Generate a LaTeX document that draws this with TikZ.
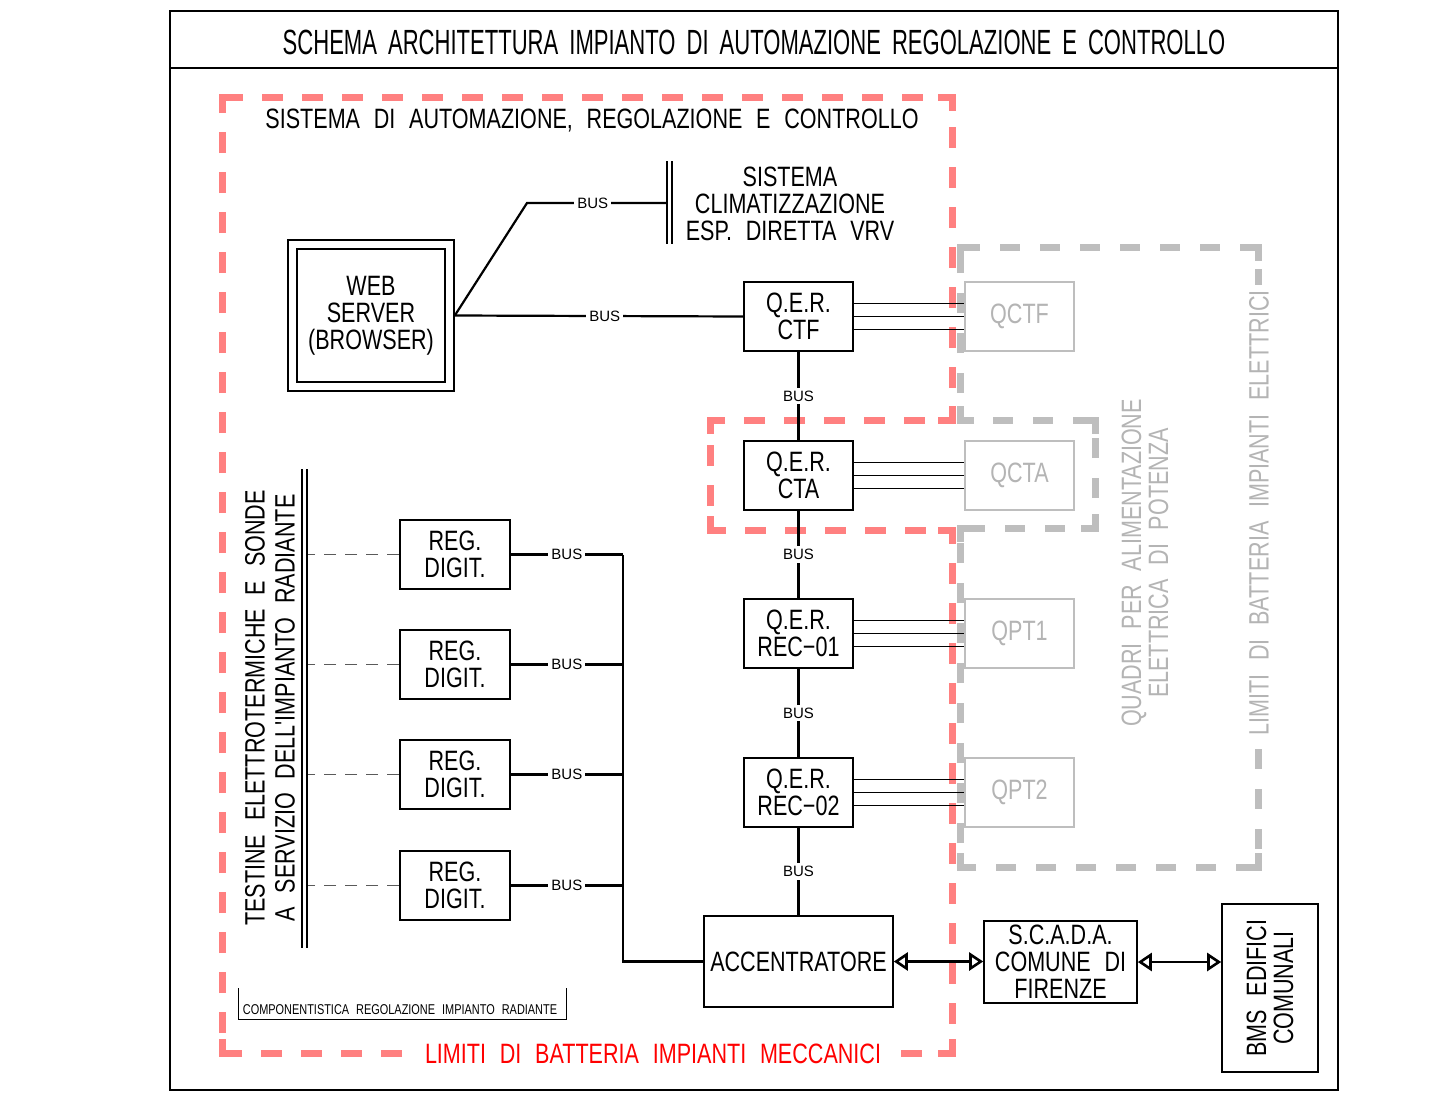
\documentclass[tikz,border=0pt]{standalone}
\usepackage{fontspec}
\setmainfont{Liberation Sans}
\newfontfamily\myCad[FakeStretch=0.77,WordSpace=2.3]{Liberation Sans}
\newfontfamily\myTitleFont[FakeStretch=0.63,WordSpace=1.8]{Liberation Sans}
\usetikzlibrary{arrows.meta}
\definecolor{redb}{RGB}{255,128,128}
\definecolor{grayb}{RGB}{190,190,190}
\definecolor{grayt}{RGB}{180,180,180}
\definecolor{redt}{RGB}{255,0,0}
\definecolor{dashc}{RGB}{90,90,90}
\newcommand\fcadA{\myCad\fontsize{28}{27}\selectfont}
\newcommand\fcadR{\myCad\fontsize{28}{30}\selectfont}
\newcommand\fcadBus{\rmfamily\fontsize{15}{15}\selectfont}
\newcommand\fcadSmall{\myCad\fontsize{14.2}{14.2}\selectfont}
\newcommand\fcadTitle{\myTitleFont\fontsize{35}{35}\selectfont}
\newcommand\cornerL[5]{\draw[#1,solid] ({#2+#4},#3) -- (#2,#3) -- (#2,{#3+#5});}
\begin{document}
\begin{tikzpicture}[x=1pt,y=-1pt,
  box/.style={draw, line width=1.6pt, inner sep=0pt, align=center, font=\fcadA},
  gbox/.style={box, draw=grayb, text=grayt},
  qbox/.style={box, minimum width=109pt, minimum height=69pt},
  rbox/.style={box, minimum width=110pt, minimum height=69pt},
  bus/.style={line width=2.2pt},
  buslbl/.style={fill=white, inner sep=3pt, font=\fcadBus},
  triple/.style={line width=1.1pt},
  regdash/.style={line width=1.2pt, draw=dashc, dash pattern=on 12pt off 9pt},
  redline/.style={draw=redb, line width=7pt, dash pattern=on 21pt off 19pt},
  grayline/.style={draw=grayb, line width=7pt, dash pattern=on 20pt off 20pt},
  dblarrow/.style={line width=2.6pt, {Triangle[open,length=14pt,width=18pt]}-{Triangle[open,length=14pt,width=18pt]}}
]
\useasboundingbox (0,0) rectangle (1432,1103);
% frame and title
\draw[line width=2.4pt] (170,11) rectangle (1338,1090);
\draw[line width=2.4pt] (170,68) -- (1338,68);
\node[font=\fcadTitle] (title) at (754,42) {SCHEMA ARCHITETTURA IMPIANTO DI AUTOMAZIONE REGOLAZIONE E CONTROLLO};

% red boundary
\draw[redline] (222,97) -- (952,97) -- (952,420) -- (710,420) -- (710,530) -- (952,530) -- (952,1053) -- (222,1053) -- cycle;
\cornerL{redline}{222}{97}{14}{14}
\cornerL{redline}{952}{97}{-14}{14}
\cornerL{redline}{952}{420}{-14}{-14}
\cornerL{redline}{710}{420}{14}{14}
\cornerL{redline}{710}{530}{14}{-14}
\cornerL{redline}{952}{530}{-14}{14}
\cornerL{redline}{952}{1053}{-14}{-14}
\cornerL{redline}{222}{1053}{14}{-14}
% gray boundary
\draw[grayline] (960,247) -- (1258,247) -- (1258,867) -- (960,867) -- (960,528) -- (1095,528) -- (1095,420) -- (960,420) -- cycle;
\cornerL{grayline}{960}{247}{14}{14}
\cornerL{grayline}{1258}{247}{-14}{14}
\cornerL{grayline}{1258}{867}{-14}{-14}
\cornerL{grayline}{960}{867}{14}{-14}
\cornerL{grayline}{960}{528}{14}{14}
\cornerL{grayline}{1095}{528}{-14}{-14}
\cornerL{grayline}{1095}{420}{-14}{14}
\cornerL{grayline}{960}{420}{14}{-14}

\node[fill=white, text=redt, font=\fcadA, inner xsep=4pt, inner ysep=3pt] (redlbl) at (653,1054) {LIMITI DI BATTERIA IMPIANTI MECCANICI};
\node[fill=white, text=grayt, font=\fcadA, rotate=90, inner xsep=5pt, inner ysep=3pt] (graylbl) at (1259,513) {LIMITI DI BATTERIA IMPIANTI ELETTRICI};
\node[text=grayt, font=\fcadA, rotate=90, align=center] (quadri) at (1145,563) {QUADRI PER ALIMENTAZIONE\\ELETTRICA DI POTENZA};
\node[font=\fcadA] (sistema) at (592,121) {SISTEMA DI AUTOMAZIONE, REGOLAZIONE E CONTROLLO};

% web server
\node[draw, line width=1.6pt, minimum width=166pt, minimum height=151pt] (webo) at (371,315.5) {};
\node[box, minimum width=148pt, minimum height=133pt] (web) at (371,315.5) {WEB\\SERVER\\(BROWSER)};

% VRV
\coordinate (vrvA) at (667,161); \coordinate (vrvB) at (667,244);
\coordinate (vrvC) at (672,161); \coordinate (vrvD) at (672,244);
\draw[line width=1.2pt] (vrvA) -- (vrvB);
\draw[line width=1.2pt] (vrvC) -- (vrvD);
\node[font=\fcadA, align=center] (vrv) at (790,204) {SISTEMA\\CLIMATIZZAZIONE\\ESP. DIRETTA VRV};
\coordinate (vrvIn) at (667,203);
\coordinate (kink) at (527,203);

% Q.E.R. boxes
\node[qbox] (qctf) at (798.5,316.5) {Q.E.R.\\CTF};
\node[qbox] (qcta) at (798.5,475.5) {Q.E.R.\\CTA};
\node[qbox] (qr1) at (798.5,633.5) {Q.E.R.\\REC−01};
\node[qbox] (qr2) at (798.5,792.5) {Q.E.R.\\REC−02};
\node[box, minimum width=189pt, minimum height=91pt] (acc) at (798.5,961.5) {ACCENTRATORE};

% QC boxes
\node[gbox, minimum width=109pt, minimum height=69pt] (qc1) at (1019.5,316.5) {QCTF};
\node[gbox, minimum width=109pt, minimum height=69pt] (qc2) at (1019.5,475.5) {QCTA};
\node[gbox, minimum width=109pt, minimum height=69pt] (qc3) at (1019.5,633.5) {QPT1};
\node[gbox, minimum width=109pt, minimum height=69pt] (qc4) at (1019.5,792.5) {QPT2};

% bus web
\draw[bus] (webo.east) -- (kink) -- node[buslbl, pos=0.47] {BUS} (vrvIn);
\draw[bus] (webo.east) -- node[buslbl, pos=0.52] {BUS} (qctf.west);

% vertical bus
\draw[bus] (qctf.south) -- node[buslbl] {BUS} (qcta.north);
\draw[bus] (qcta.south) -- node[buslbl] {BUS} (qr1.north);
\draw[bus] (qr1.south) -- node[buslbl] {BUS} (qr2.north);
\draw[bus] (qr2.south) -- node[buslbl] {BUS} (acc.north);

% triple lines
\foreach \a/\b in {qctf/qc1, qcta/qc2, qr1/qc3, qr2/qc4} {
  \draw[triple] ([yshift=13pt]\a.east) -- ([yshift=13pt]\b.west);
  \draw[triple] (\a.east) -- (\b.west);
  \draw[triple] ([yshift=-13pt]\a.east) -- ([yshift=-13pt]\b.west);
}

% REG boxes
\node[rbox] (reg1) at (455,554.5) {REG.\\DIGIT.};
\node[rbox] (reg2) at (455,664.5) {REG.\\DIGIT.};
\node[rbox] (reg3) at (455,774.5) {REG.\\DIGIT.};
\node[rbox] (reg4) at (455,885.5) {REG.\\DIGIT.};
\coordinate (barx) at (307,0);
\coordinate (busx) at (623,0);
\foreach \r in {reg1,reg2,reg3,reg4} {
  \draw[regdash] (\r.west) -- (\r.west -| barx);
  \draw[bus] (\r.east) -- node[buslbl] {BUS} (\r.east -| busx);
}
\draw[bus] (reg1.east -| busx) |- (acc.west);

% testine bar
\coordinate (tA) at (302,469); \coordinate (tB) at (302,948);
\coordinate (tC) at (307,469); \coordinate (tD) at (307,948);
\draw[line width=1.2pt] (tA) -- (tB);
\draw[line width=1.2pt] (tC) -- (tD);
\node[font=\fcadR, rotate=90, align=center] (testine) at (270,708) {TESTINE ELETTROTERMICHE E SONDE\\A SERVIZIO DELL'IMPIANTO RADIANTE};

% componentistica
\coordinate (cA) at (238,988); \coordinate (cB) at (238,1019);
\coordinate (cC) at (566,1019); \coordinate (cD) at (566,988);
\draw[line width=1pt] (cA) -- (cB) -- (cC) -- (cD);
\node[font=\fcadSmall] (comp) at (400,1010) {COMPONENTISTICA REGOLAZIONE IMPIANTO RADIANTE};

% SCADA / BMS
\node[box, minimum width=153pt, minimum height=82pt] (scada) at (1060.5,962) {S.C.A.D.A.\\COMUNE DI\\FIRENZE};
\node[box, minimum width=168pt, minimum height=96pt, rotate=90] (bms) at (1270,988) {BMS EDIFICI\\COMUNALI};
\draw[dblarrow] (acc.east) -- (acc.east -| scada.west);
\draw[dblarrow] (scada.east) -- (scada.east -| bms.north);
\end{tikzpicture}
\end{document}
